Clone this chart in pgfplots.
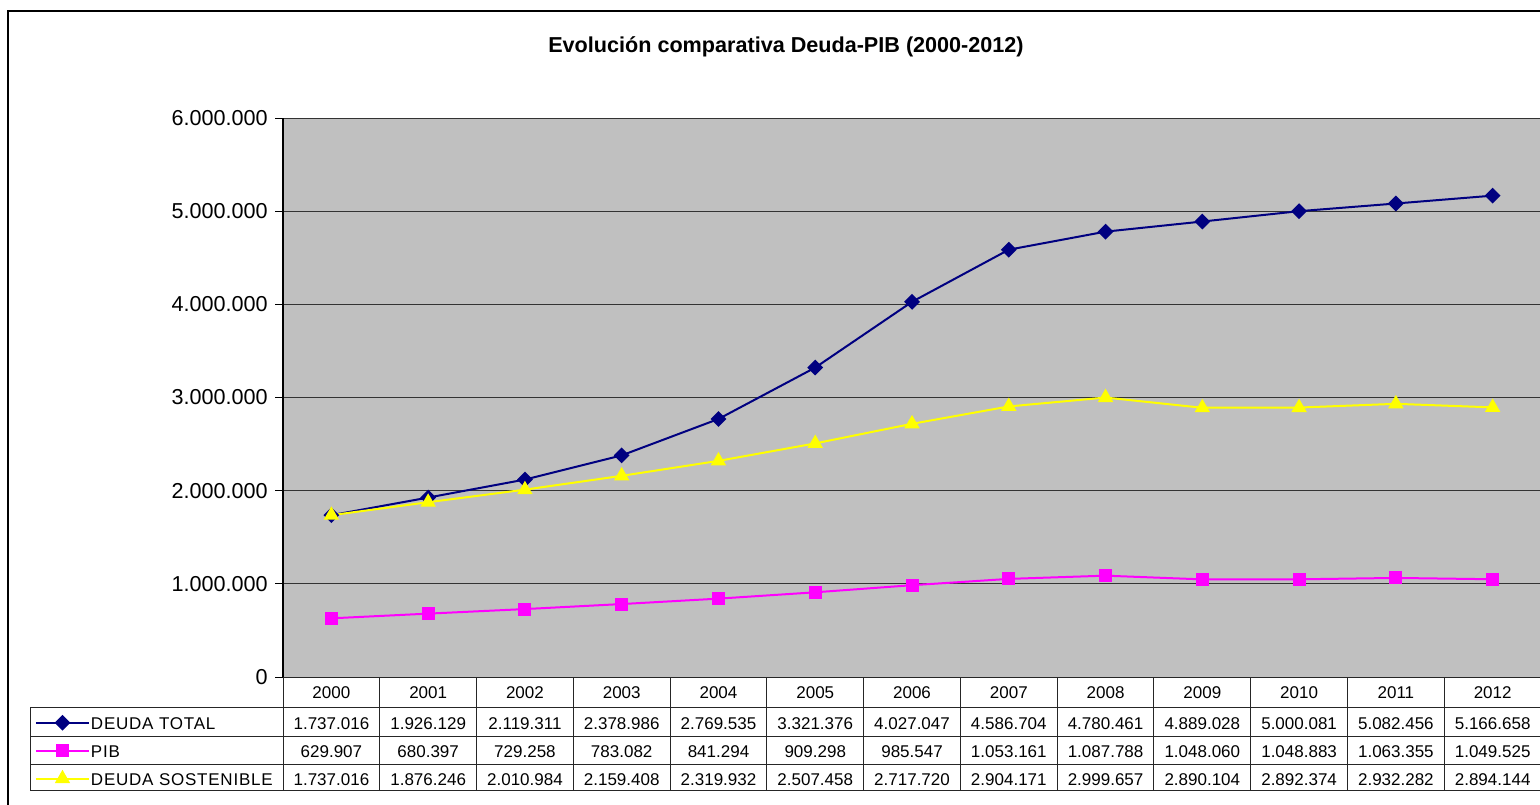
\documentclass[border=0pt]{standalone}
\usepackage{pgfplots}
\pgfplotsset{compat=1.18}
\usepackage{pgfplotstable}
\usepackage{fontspec}
\setmainfont{Liberation Sans}
\newfontfamily\spaced[LetterSpace=4.5]{Liberation Sans}

\definecolor{plotgray}{HTML}{C0C0C0}
\definecolor{dnavy}{HTML}{000080}
\definecolor{dmag}{HTML}{FF00FF}
\definecolor{dyel}{HTML}{FFFF00}

\pgfkeys{/pgf/number format/assume math mode=true}

% valores de la tabla de datos
\pgfplotstableread{
year total pib sost
2000 1737016 629907 1737016
2001 1926129 680397 1876246
2002 2119311 729258 2010984
2003 2378986 783082 2159408
2004 2769535 841294 2319932
2005 3321376 909298 2507458
2006 4027047 985547 2717720
2007 4586704 1053161 2904171
2008 4780461 1087788 2999657
2009 4889028 1048060 2890104
2010 5000081 1048883 2892374
2011 5082456 1063355 2932282
2012 5166658 1049525 2894144
}\datos

\begin{document}
\begin{tikzpicture}
\useasboundingbox (0,0) rectangle (770pt,-402pt);

\begin{axis}[
    at={(141.5pt,-338.5pt)}, anchor=south west,
    width=629pt, height=279.5pt, scale only axis,
    xmin=-0.5, xmax=12.5, ymin=0, ymax=6000000,
    axis background/.style={fill=plotgray},
    axis x line=none, axis y line*=left,
    y axis line style={black, line width=0.6pt},
    ytick={0,1000000,...,6000000},
    ymajorgrids, major grid style={black!80, line width=0.5pt},
    tick align=outside, major tick length=4pt,
    ytick style={black, line width=0.5pt},
    scaled y ticks=false,
    yticklabel style={font=\fontsize{10.8}{12}\selectfont, inner sep=0pt, xshift=-3.5pt,
        /pgf/number format/.cd, fixed, precision=0, 1000 sep={.}},
    clip=false,
    legend style={at={(-0.19714,-0.05886)}, anchor=north west, draw=none, fill=none,
        inner sep=0pt, outer sep=0pt, row sep=0pt,
        font=\fontsize{8.5}{10}\selectfont\spaced,
        nodes={inner sep=0pt, text height=9.6pt, text depth=4.4pt},
        /tikz/every odd column/.append style={column sep=0.5pt}},
    legend cell align=left,
    legend image code/.code={\draw[mark repeat=2, mark phase=2]
        plot coordinates {(0pt,0.6pt) (13.25pt,0.6pt) (26.5pt,0.6pt)};},
]
\addplot[dnavy, line width=1pt, mark=square*, mark size=2.3pt,
    mark options={rotate=45, fill=dnavy, draw=dnavy}]
    table[x expr=\coordindex, y=total] {\datos};
\addplot[dmag, line width=1pt, mark=square*, mark size=2.75pt,
    mark options={fill=dmag, draw=dmag}]
    table[x expr=\coordindex, y=pib] {\datos};
\addplot[dyel, line width=1pt, mark=triangle*, mark size=3.46pt,
    mark options={fill=dyel, draw=dyel}]
    table[x expr=\coordindex, y=sost] {\datos};
\legend{DEUDA TOTAL, PIB, DEUDA SOSTENIBLE}
\end{axis}

\begin{scope}[x=0.5pt, y=-0.5pt]
  % marco exterior
  \draw[line width=1pt] (8,11) rectangle (1620,860);
  \node[font=\fontsize{10.8}{12}\selectfont\bfseries] at (786,47)
    {Evolución comparativa Deuda-PIB (2000-2012)};
  % rejilla de la tabla
  \draw[line width=0.5pt, black!85] (283,677) -- (1545,677);
  \foreach \yy in {707,736,764,790} \draw[line width=0.5pt, black!85] (30,\yy) -- (1545,\yy);
  \draw[line width=0.5pt, black!85] (30,707) -- (30,790);
  \foreach \k in {0,...,13} {
    \pgfmathsetmacro\lx{283+96.77*\k}
    \draw[line width=0.5pt, black!85] (\lx,677) -- (\lx,790);
  }
  \foreach \i in {0,...,12} {
    \pgfmathsetmacro\cx{331.4+96.77*\i}
    \pgfplotstablegetelem{\i}{year}\of\datos
    \node[inner sep=0pt, text height=6.1pt, text depth=0pt, font=\fontsize{8.5}{10}\selectfont]
      at (\cx,692.5) {\pgfplotsretval};
    \pgfplotstablegetelem{\i}{total}\of\datos
    \node[inner sep=0pt, text height=6.1pt, text depth=0pt, font=\fontsize{8.5}{10}\selectfont]
      at (\cx,723) {\pgfmathprintnumber[fixed,precision=0,1000 sep={.}]{\pgfplotsretval}};
    \pgfplotstablegetelem{\i}{pib}\of\datos
    \node[inner sep=0pt, text height=6.1pt, text depth=0pt, font=\fontsize{8.5}{10}\selectfont]
      at (\cx,751) {\pgfmathprintnumber[fixed,precision=0,1000 sep={.}]{\pgfplotsretval}};
    \pgfplotstablegetelem{\i}{sost}\of\datos
    \node[inner sep=0pt, text height=6.1pt, text depth=0pt, font=\fontsize{8.5}{10}\selectfont]
      at (\cx,779) {\pgfmathprintnumber[fixed,precision=0,1000 sep={.}]{\pgfplotsretval}};
  }
\end{scope}
\end{tikzpicture}
\end{document}
